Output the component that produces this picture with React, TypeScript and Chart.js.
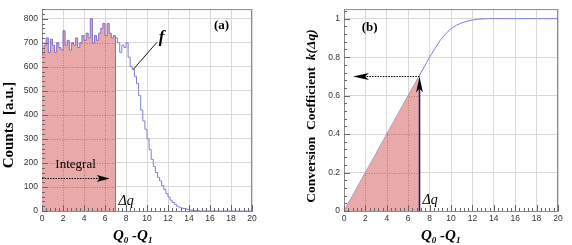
import React, { useEffect, useRef } from 'react';
import { Chart, registerables } from 'chart.js';
Chart.register(...registerables);

// ---------- data ----------
const BIN_WIDTH = 0.2;
const DELTA_Q = 7;
const X_MAX = 20;
const COUNTS_MAX = 840;
const K_MAX = 1.05;

const xTickStep = 2;
const countsTickStep = 100;
const kTickStep = 0.2;

// histogram counts, bins of 0.2 from 0 to 20
const counts = [
  650, 690, 720, 660, 715, 690, 660, 700, 680, 670,
  750, 690, 710, 670, 700, 690, 720, 680, 700, 730,
  710, 740, 720, 800, 700, 730, 710, 740, 760, 780,
  730, 780, 740, 720, 730,
  720, 700, 660, 690, 680, 700, 640, 600, 590, 560,
  530, 480, 420, 375, 340, 300, 255, 215, 185, 160,
  140, 125, 105, 90, 72, 58, 45, 35, 28, 20,
  16, 13, 10, 9, 7, 5, 3, 2, 1, 1,
  0, 0, 0, 0, 0, 0, 0, 0, 0, 0,
  0, 0, 0, 0, 0, 0, 0, 0, 0, 0,
  0, 0, 0, 0, 0,
];

// conversion coefficient k(Δq)
const kQ = [
  0, 0.5, 1, 1.5, 2, 2.5, 3, 3.5, 4, 4.5, 5, 5.5, 6, 6.5, 7, 7.5, 8, 8.5, 9, 9.5,
  10, 10.5, 11, 11.5, 12, 12.5, 13, 13.5, 14, 15, 16, 17, 18, 19, 20,
];
const kValues = [
  0, 0.05, 0.1, 0.15, 0.2, 0.25, 0.3, 0.35, 0.4, 0.45, 0.5, 0.55, 0.6, 0.65, 0.7, 0.75, 0.8, 0.845, 0.888, 0.922,
  0.948, 0.966, 0.978, 0.987, 0.993, 0.997, 0.999, 1, 1, 1, 1, 1, 1, 1, 1,
];
const K_AT_DELTA = 0.7;

// ---------- styles ----------
const SANS = '"Liberation Sans", Arial, sans-serif';
const SERIF = '"Liberation Serif", "Times New Roman", serif';
const PINK = '#e9a9a9';
const LINE = '#7f7fd8';
const LINE_IN = '#8070c4';
const GRID = '#d8d8d8';
const AXIS = '#8a8a8a';
const H = 245;
const W_A = 286;
const W_B = 286;

type Run = { t: string; f: string; dy?: number };

function runsWidth(ctx: CanvasRenderingContext2D, runs: Run[]) {
  let w = 0;
  for (const r of runs) { ctx.font = r.f; w += ctx.measureText(r.t).width; }
  return w;
}
function drawRuns(ctx: CanvasRenderingContext2D, runs: Run[], x: number, y: number) {
  let cx = x;
  for (const r of runs) {
    ctx.font = r.f;
    ctx.fillText(r.t, cx, y + (r.dy || 0));
    cx += ctx.measureText(r.t).width;
  }
}

function arrowHead(ctx: CanvasRenderingContext2D, tipX: number, tipY: number, dx: number, dy: number, len: number, half: number, notch: number) {
  const px = -dy, py = dx;
  const bx = tipX - dx * len, by = tipY - dy * len;
  const nx = tipX - dx * (len - notch), ny = tipY - dy * (len - notch);
  ctx.beginPath();
  ctx.moveTo(tipX, tipY);
  ctx.lineTo(bx + px * half, by + py * half);
  ctx.lineTo(nx, ny);
  ctx.lineTo(bx - px * half, by - py * half);
  ctx.closePath();
  ctx.fill();
}

function drawFrameAndTicks(chart: any, yStep: number, yTop: number) {
  const { ctx, chartArea: a, scales } = chart;
  const x = scales.x, y = scales.y;
  ctx.save();
  ctx.strokeStyle = AXIS;
  ctx.lineWidth = 1;
  ctx.beginPath();
  ctx.moveTo(a.left, a.top + 0.5); ctx.lineTo(a.right, a.top + 0.5);
  ctx.moveTo(a.right - 0.5, a.top); ctx.lineTo(a.right - 0.5, a.bottom);
  ctx.stroke();
  ctx.strokeStyle = '#666';
  ctx.beginPath();
  const xMinor = xTickStep / 5;
  const nx = Math.round(X_MAX / xMinor);
  for (let i = 0; i <= nx; i++) {
    const p = Math.round(x.getPixelForValue(i * xMinor)) + 0.5;
    const len = i % 5 === 0 ? 6 : 3;
    ctx.moveTo(p, a.bottom); ctx.lineTo(p, a.bottom - len);
  }
  const yMinor = yStep / 5;
  const ny = Math.floor(yTop / yMinor + 1e-6);
  for (let i = 0; i <= ny; i++) {
    const p = Math.round(y.getPixelForValue(i * yMinor)) + 0.5;
    const len = i % 5 === 0 ? 6 : 3;
    ctx.moveTo(a.left, p); ctx.lineTo(a.left + len, p);
  }
  ctx.stroke();
  ctx.restore();
}

function dottedGrid(chart: any, yStep: number, yTop: number) {
  const { ctx, chartArea: a, scales } = chart;
  const x = scales.x, y = scales.y;
  ctx.strokeStyle = 'rgba(150,85,85,0.6)';
  ctx.lineWidth = 1;
  ctx.setLineDash([1, 1.5]);
  ctx.beginPath();
  for (let v = xTickStep; v < X_MAX; v += xTickStep) {
    const p = Math.round(x.getPixelForValue(v)) + 0.5;
    ctx.moveTo(p, a.bottom); ctx.lineTo(p, a.top);
  }
  const n = Math.floor(yTop / yStep + 1e-6);
  for (let i = 1; i <= n; i++) {
    const p = Math.round(y.getPixelForValue(i * yStep)) + 0.5;
    ctx.moveTo(a.left, p); ctx.lineTo(a.right, p);
  }
  ctx.stroke();
  ctx.setLineDash([]);
}

function commonScales(yMax: number, yStep: number, yWidth: number) {
  return {
    x: {
      type: 'linear' as const,
      min: 0,
      max: X_MAX,
      ticks: { stepSize: xTickStep, includeBounds: false, color: '#333', font: { family: SANS, size: 8.5 }, padding: 3, maxRotation: 0 },
      grid: { color: GRID, drawTicks: false },
      border: { color: AXIS },
      afterFit: (s: any) => { s.height = 34; },
    },
    y: {
      type: 'linear' as const,
      min: 0,
      max: yMax,
      ticks: {
        stepSize: yStep, includeBounds: false, color: '#333', font: { family: SANS, size: 8.5 }, padding: 4,
        callback: (v: any) => String(Number(Number(v).toFixed(2))),
      },
      grid: { color: GRID, drawTicks: false },
      border: { color: AXIS },
      afterBuildTicks: (s: any) => { s.ticks = s.ticks.filter((t: any) => t.value <= yMax - yStep * 0.2); },
      afterFit: (s: any) => { s.width = yWidth; },
    },
  };
}

export default function App() {
  const refA = useRef<HTMLCanvasElement>(null);
  const refB = useRef<HTMLCanvasElement>(null);

  useEffect(() => {
    // ---------- chart (a) ----------
    const edges = counts.map((_, i) => Math.round(i * BIN_WIDTH * 10) / 10);
    const histPts = counts.map((v, i) => ({ x: edges[i], y: v }));
    histPts.push({ x: X_MAX, y: counts[counts.length - 1] });
    const nFill = Math.round(DELTA_Q / BIN_WIDTH);
    const fillPts = histPts.slice(0, nFill).concat([{ x: DELTA_Q, y: counts[nFill - 1] }, { x: DELTA_Q, y: 0 }]);
    const outPts = histPts.slice(nFill);

    const pluginA = {
      id: 'decoA',
      afterDatasetsDraw(chart: any) {
        const { ctx, scales } = chart;
        const x = scales.x, y = scales.y;
        ctx.save();
        ctx.beginPath();
        ctx.moveTo(x.getPixelForValue(0), y.getPixelForValue(0));
        for (let i = 0; i < nFill; i++) {
          ctx.lineTo(x.getPixelForValue(edges[i]), y.getPixelForValue(counts[i]));
          ctx.lineTo(x.getPixelForValue(edges[i] + BIN_WIDTH), y.getPixelForValue(counts[i]));
        }
        ctx.lineTo(x.getPixelForValue(DELTA_Q), y.getPixelForValue(0));
        ctx.closePath();
        ctx.clip();
        dottedGrid(chart, countsTickStep, 800);
        ctx.restore();
      },
      afterDraw(chart: any) {
        const { ctx, scales } = chart;
        const x = scales.x, y = scales.y;
        drawFrameAndTicks(chart, countsTickStep, COUNTS_MAX);
        ctx.save();
        ctx.fillStyle = '#000';
        ctx.strokeStyle = '#000';
        // (a)
        ctx.font = `bold 13px ${SERIF}`;
        ctx.textAlign = 'center';
        ctx.textBaseline = 'middle';
        ctx.fillText('(a)', x.getPixelForValue(17.1), y.getPixelForValue(772));
        // f label + pointer
        ctx.font = `bold italic 17px ${SERIF}`;
        ctx.fillText('f', x.getPixelForValue(11.4), y.getPixelForValue(722));
        ctx.lineWidth = 0.9;
        ctx.beginPath();
        ctx.moveTo(x.getPixelForValue(8.67), y.getPixelForValue(588));
        ctx.lineTo(x.getPixelForValue(10.95), y.getPixelForValue(702));
        ctx.stroke();
        // Integral
        ctx.textAlign = 'left';
        ctx.textBaseline = 'alphabetic';
        ctx.font = `13px ${SERIF}`;
        ctx.fillText('Integral', x.getPixelForValue(1.27), y.getPixelForValue(177));
        const ay = Math.round(y.getPixelForValue(137)) + 0.5;
        const ax0 = x.getPixelForValue(0);
        const ax1 = x.getPixelForValue(6.45);
        ctx.setLineDash([1.5, 1.2]);
        ctx.lineWidth = 1;
        ctx.beginPath();
        ctx.moveTo(ax0, ay); ctx.lineTo(ax1 - 8, ay);
        ctx.stroke();
        ctx.setLineDash([]);
        arrowHead(ctx, ax1, ay, 1, 0, 13, 3.6, 3);
        // Δq
        ctx.font = `italic 14px ${SERIF}`;
        ctx.fillText('Δq', x.getPixelForValue(DELTA_Q) + 3, y.getPixelForValue(27));
        // axis titles
        ctx.save();
        ctx.translate(9, 125);
        ctx.rotate(-Math.PI / 2);
        ctx.textAlign = 'center';
        ctx.textBaseline = 'middle';
        ctx.font = `bold 15px ${SERIF}`;
        ctx.fillText('Counts  [a.u.]', 0, 0);
        ctx.restore();
        const main = `bold italic 15px ${SERIF}`;
        const sub = `bold italic 9px ${SERIF}`;
        drawRuns(ctx, [{ t: 'Q', f: main }, { t: '0', f: sub, dy: 3 }, { t: ' -Q', f: main }, { t: '1', f: sub, dy: 3 }], 113, 240);
        ctx.restore();
      },
    };

    const chartA = new Chart(refA.current!, {
      type: 'line',
      data: {
        datasets: [
          {
            data: fillPts, stepped: 'before', fill: 'origin', backgroundColor: PINK,
            borderColor: LINE_IN, borderWidth: 1, pointRadius: 0,
          },
          {
            data: outPts, stepped: 'before', fill: false,
            borderColor: LINE, borderWidth: 1, pointRadius: 0,
          },
        ],
      },
      options: {
        animation: false,
        responsive: false,
        events: [],
        layout: { padding: { left: 0, right: 34, top: 5, bottom: 0 } },
        plugins: { legend: { display: false }, tooltip: { enabled: false } },
        scales: commonScales(COUNTS_MAX, countsTickStep, 42) as any,
      },
      plugins: [pluginA],
    });

    // ---------- chart (b) ----------
    const kPts = kQ.map((q, i) => ({ x: q, y: kValues[i] }));
    const kFill = kPts.filter((p) => p.x <= DELTA_Q).concat([{ x: DELTA_Q, y: 0 }]);

    const pluginB = {
      id: 'decoB',
      afterDatasetsDraw(chart: any) {
        const { ctx, scales } = chart;
        const x = scales.x, y = scales.y;
        ctx.save();
        ctx.beginPath();
        ctx.moveTo(x.getPixelForValue(0), y.getPixelForValue(0));
        for (const p of kFill) ctx.lineTo(x.getPixelForValue(p.x), y.getPixelForValue(p.y));
        ctx.closePath();
        ctx.clip();
        dottedGrid(chart, kTickStep, 1);
        ctx.restore();
      },
      afterDraw(chart: any) {
        const { ctx, scales } = chart;
        const x = scales.x, y = scales.y;
        drawFrameAndTicks(chart, kTickStep, K_MAX);
        ctx.save();
        ctx.fillStyle = '#000';
        ctx.strokeStyle = '#000';
        ctx.font = `bold 13px ${SERIF}`;
        ctx.textAlign = 'center';
        ctx.textBaseline = 'middle';
        ctx.fillText('(b)', x.getPixelForValue(2.4), y.getPixelForValue(0.955));
        // vertical arrow at Δq
        const vx = Math.round(x.getPixelForValue(DELTA_Q)) + 0.5;
        const tipY = y.getPixelForValue(K_AT_DELTA);
        ctx.strokeStyle = '#20205a';
        ctx.lineWidth = 1.6;
        ctx.beginPath();
        ctx.moveTo(vx, y.getPixelForValue(0));
        ctx.lineTo(vx, tipY + 10);
        ctx.stroke();
        ctx.fillStyle = '#000';
        arrowHead(ctx, vx, tipY, 0, -1, 16, 3.4, 4);
        // horizontal dotted arrow
        const hy = Math.round(tipY) + 0.5;
        const hx1 = x.getPixelForValue(0.84);
        ctx.strokeStyle = '#000';
        ctx.lineWidth = 1;
        ctx.setLineDash([1.5, 1.2]);
        ctx.beginPath();
        ctx.moveTo(vx, hy); ctx.lineTo(hx1 + 10, hy);
        ctx.stroke();
        ctx.setLineDash([]);
        arrowHead(ctx, hx1, hy, -1, 0, 16, 3.4, 4);
        // Δq
        ctx.textAlign = 'left';
        ctx.textBaseline = 'alphabetic';
        ctx.font = `italic 14px ${SERIF}`;
        ctx.fillText('Δq', vx + 3, y.getPixelForValue(0.035));
        // y title
        ctx.save();
        ctx.translate(26, 116);
        ctx.rotate(-Math.PI / 2);
        ctx.textBaseline = 'middle';
        const yt: Run[] = [
          { t: 'Conversion  Coefficient  ', f: `bold 13.5px ${SERIF}` },
          { t: 'k(Δq)', f: `bold italic 13.5px ${SERIF}` },
        ];
        drawRuns(ctx, yt, -runsWidth(ctx, yt) / 2, 0);
        ctx.restore();
        const main = `bold italic 15px ${SERIF}`;
        const sub = `bold italic 9px ${SERIF}`;
        drawRuns(ctx, [{ t: 'Q', f: main }, { t: '0', f: sub, dy: 3 }, { t: ' -Q', f: main }, { t: '1', f: sub, dy: 3 }], 421 - W_A, 240);
        ctx.restore();
      },
    };

    const chartB = new Chart(refB.current!, {
      type: 'line',
      data: {
        datasets: [
          {
            data: kFill, fill: 'origin', backgroundColor: PINK,
            borderWidth: 0, borderColor: 'rgba(0,0,0,0)', pointRadius: 0, tension: 0,
          },
          {
            data: kPts, fill: false, borderColor: LINE, borderWidth: 1, pointRadius: 0, tension: 0,
          },
        ],
      },
      options: {
        animation: false,
        responsive: false,
        events: [],
        layout: { padding: { left: 0, right: 14, top: 5, bottom: 0 } },
        plugins: { legend: { display: false }, tooltip: { enabled: false } },
        scales: commonScales(K_MAX, kTickStep, 58) as any,
      },
      plugins: [pluginB],
    });

    return () => {
      chartA.destroy();
      chartB.destroy();
    };
  }, []);

  return (
    <div style={{ position: 'fixed', left: 0, top: 0, width: W_A + W_B, height: H, background: '#fff' }}>
      <canvas ref={refA} width={W_A} height={H} style={{ position: 'absolute', left: 0, top: 0 }} />
      <canvas ref={refB} width={W_B} height={H} style={{ position: 'absolute', left: W_A, top: 0 }} />
    </div>
  );
}
